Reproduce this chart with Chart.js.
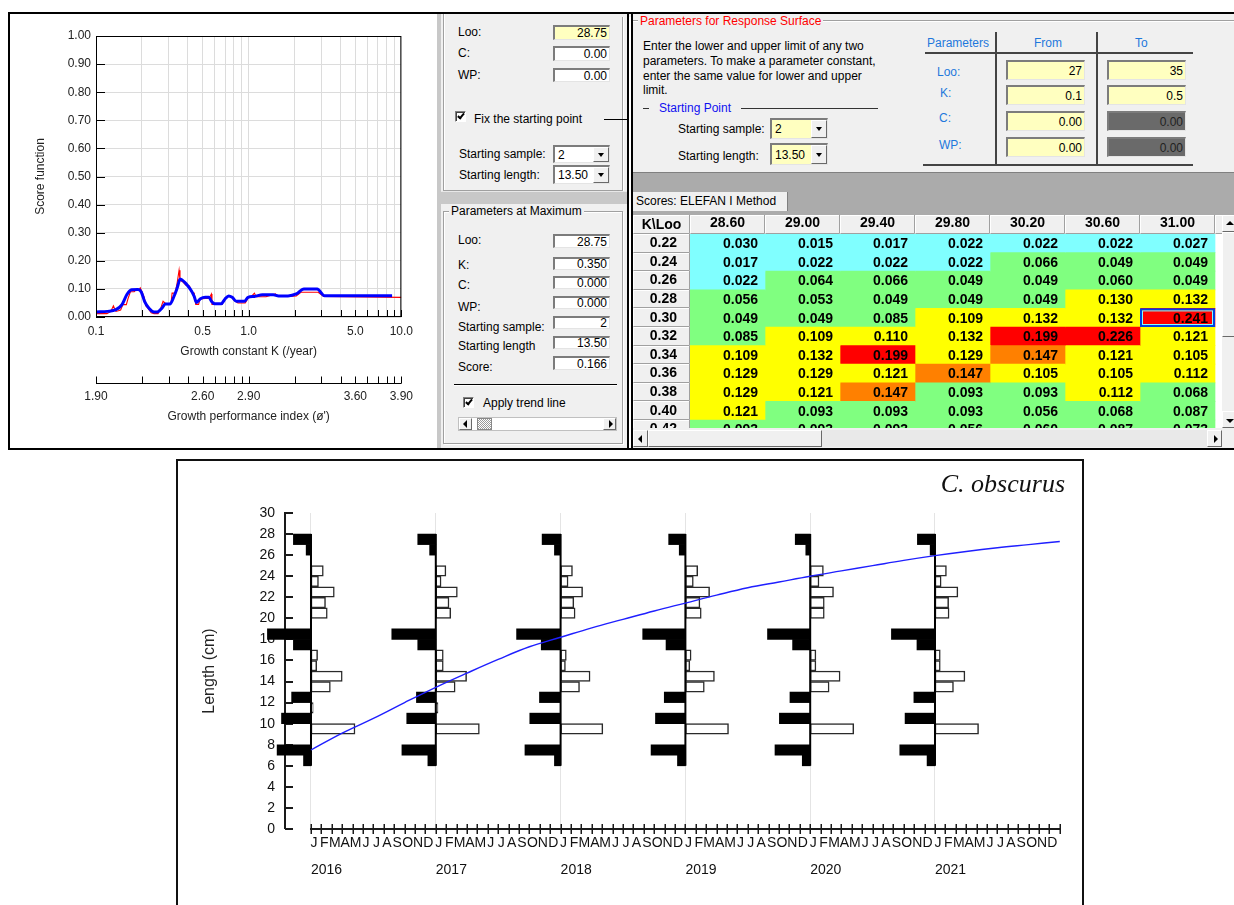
<!DOCTYPE html>
<html>
<head>
<meta charset="utf-8">
<script src="https://cdn.jsdelivr.net/npm/chart.js@4.4.1/dist/chart.umd.min.js"></script>
<style>
body{margin:0;width:1234px;height:905px;position:relative;background:#fff;overflow:hidden;font-family:"Liberation Sans",Arial,sans-serif;font-size:12px;color:#000}
.a{position:absolute}
.t{position:absolute;white-space:nowrap;line-height:14px;font-size:12px}
.in{position:absolute;box-sizing:border-box;background:#fff;border-top:2px solid #7c7c7c;border-left:2px solid #7c7c7c;border-right:1px solid #e4e4e4;border-bottom:1px solid #e4e4e4;display:flex;align-items:center;justify-content:flex-end;padding-right:2px;font-size:12px;line-height:12px}
.cmb{justify-content:flex-start;padding-left:3px}
.yl{background:#ffffc0}
.dk{background:#6a6a6a;color:#222}
.dd{position:absolute;right:0;top:0;bottom:0;width:16px;background:#f0f0f0;box-sizing:border-box;border:1px solid;border-color:#fff #696969 #696969 #fff}
.dd::after{content:"";position:absolute;left:4px;top:50%;margin-top:-2px;border-left:3.5px solid transparent;border-right:3.5px solid transparent;border-top:4px solid #000}
.cb{position:absolute;width:11px;height:11px;box-sizing:border-box;background:#fff;border-top:1px solid #808080;border-left:1px solid #808080;border-right:1px solid #fff;border-bottom:1px solid #fff;box-shadow:inset 1px 1px 0 #404040}
.cb::after{content:"";position:absolute;left:3px;top:0px;width:2px;height:5px;border-right:2px solid #000;border-bottom:2px solid #000;transform:rotate(40deg)}
.btn{position:absolute;box-sizing:border-box;background:#f0f0f0;border:1px solid;border-color:#fff #696969 #696969 #fff}
.al::after,.ar::after,.au::after,.ad::after{content:"";position:absolute;left:50%;top:50%}
.al::after{margin-left:-3px;margin-top:-4px;border-top:4px solid transparent;border-bottom:4px solid transparent;border-right:4px solid #000}
.ar::after{margin-left:-1px;margin-top:-4px;border-top:4px solid transparent;border-bottom:4px solid transparent;border-left:4px solid #000}
.au::after{margin-left:-4px;margin-top:-3px;border-left:4px solid transparent;border-right:4px solid transparent;border-bottom:4px solid #000}
.ad::after{margin-left:-4px;margin-top:-1px;border-left:4px solid transparent;border-right:4px solid transparent;border-top:4px solid #000}
.grp{position:absolute;box-sizing:border-box;border:1px solid #a0a0a0;box-shadow:1px 1px 0 #fff, inset 1px 1px 0 #fff}
.blue{color:#1e78dc}
canvas{position:absolute}
</style>
</head>
<body>
<!-- panel backgrounds -->
<div class="a" style="left:437px;top:14px;width:4px;height:434px;background:#c8c8c8"></div>
<div class="a" style="left:441px;top:14px;width:186px;height:434px;background:#f0f0f0"></div>
<div class="a" style="left:633px;top:14px;width:601px;height:434px;background:#f0f0f0"></div>

<!-- score function chart -->
<canvas id="scoreChart" width="427" height="434" style="left:10px;top:14px"></canvas>

<!-- middle panel -->
<div class="grp" style="left:443px;top:6px;width:180px;height:185px"></div>
<div class="t" style="left:472px;top:3px;background:#f0f0f0;padding:0 2px">Enter Parameters for ELEFAN I</div>
<div class="t" style="left:458px;top:25px">Loo:</div>
<div class="in yl" style="left:553px;top:25px;width:57px;height:15px">28.75</div>
<div class="t" style="left:458px;top:46px">C:</div>
<div class="in" style="left:553px;top:46px;width:57px;height:15px">0.00</div>
<div class="t" style="left:458px;top:68px">WP:</div>
<div class="in" style="left:553px;top:68px;width:57px;height:14px">0.00</div>
<div class="cb" style="left:455px;top:111px"></div>
<div class="t" style="left:474px;top:112px">Fix the starting point</div>
<div class="a" style="left:604px;top:119px;width:23px;height:1px;background:#000"></div>
<div class="t" style="left:459px;top:147px">Starting sample:</div>
<div class="in cmb" style="left:553px;top:145px;width:57px;height:18px">2<div class="dd"></div></div>
<div class="t" style="left:459px;top:168px">Starting length:</div>
<div class="in cmb" style="left:553px;top:165px;width:57px;height:19px">13.50<div class="dd"></div></div>
<div class="a" style="left:441px;top:191px;width:186px;height:12px;background:#c8c8c8;border-top:1px solid #e8e8e8"></div>
<div class="grp" style="left:443px;top:211px;width:180px;height:233px"></div>
<div class="t" style="left:449px;top:204px;background:#f0f0f0;padding:0 2px">Parameters at Maximum</div>
<div class="t" style="left:458px;top:233px">Loo:</div>
<div class="in" style="left:553px;top:234px;width:57px;height:14px">28.75</div>
<div class="t" style="left:458px;top:258px">K:</div>
<div class="in" style="left:553px;top:257px;width:57px;height:13px">0.350</div>
<div class="t" style="left:458px;top:278px">C:</div>
<div class="in" style="left:553px;top:276px;width:57px;height:13px">0.000</div>
<div class="t" style="left:458px;top:300px">WP:</div>
<div class="in" style="left:553px;top:296px;width:57px;height:13px">0.000</div>
<div class="t" style="left:458px;top:320px">Starting sample:</div>
<div class="in" style="left:553px;top:316px;width:57px;height:13px">2</div>
<div class="t" style="left:458px;top:339px">Starting length</div>
<div class="in" style="left:553px;top:336px;width:57px;height:13px">13.50</div>
<div class="t" style="left:458px;top:360px">Score:</div>
<div class="in" style="left:553px;top:356px;width:57px;height:14px">0.166</div>
<div class="a" style="left:454px;top:384px;width:163px;height:1px;background:#000;box-shadow:0 1px 0 #fff"></div>
<div class="cb" style="left:463px;top:397px"></div>
<div class="t" style="left:483px;top:396px">Apply trend line</div>
<div class="a" style="left:458px;top:417px;width:159px;height:14px;background:#fff;box-sizing:border-box;border:1px solid #c0c0c0"></div>
<div class="btn al" style="left:459px;top:418px;width:13px;height:12px"></div>
<div class="a" style="left:477px;top:418px;width:15px;height:12px;background:repeating-conic-gradient(#9a9a9a 0 25%,#fff 0 50%) 0 0/2px 2px;box-sizing:border-box;border:1px solid #888"></div>
<div class="btn ar" style="left:603px;top:418px;width:13px;height:12px"></div>

<!-- right panel -->
<div class="a" style="left:633px;top:20px;width:601px;height:1px;background:#a0a0a0;box-shadow:0 1px 0 #fff"></div>
<div class="t" style="left:638px;top:14px;background:#f0f0f0;padding:0 2px;color:#ff0000">Parameters for Response Surface</div>
<div class="t" style="left:643px;top:39px">Enter the lower and upper limit of any two</div>
<div class="t" style="left:643px;top:54px">parameters. To make a parameter constant,</div>
<div class="t" style="left:643px;top:69px">enter the same value for lower and upper</div>
<div class="t" style="left:643px;top:83px">limit.</div>
<div class="a" style="left:643px;top:108px;width:6px;height:1px;background:#333"></div>
<div class="t" style="left:659px;top:101px;color:#1010f0">Starting Point</div>
<div class="a" style="left:741px;top:108px;width:137px;height:1px;background:#333"></div>
<div class="t" style="left:678px;top:122px">Starting sample:</div>
<div class="in cmb yl" style="left:770px;top:118px;width:58px;height:21px">2<div class="dd"></div></div>
<div class="t" style="left:678px;top:149px">Starting length:</div>
<div class="in cmb yl" style="left:770px;top:143px;width:58px;height:22px">13.50<div class="dd"></div></div>

<div class="t blue" style="left:927px;top:36px">Parameters</div>
<div class="t blue" style="left:1034px;top:36px">From</div>
<div class="t blue" style="left:1135px;top:36px">To</div>
<div class="a" style="left:925px;top:52px;width:268px;height:2px;background:#444"></div>
<div class="a" style="left:995px;top:32px;width:2px;height:133px;background:#444"></div>
<div class="a" style="left:1096px;top:32px;width:2px;height:133px;background:#444"></div>
<div class="a" style="left:923px;top:164px;width:270px;height:2px;background:#444"></div>
<div class="t blue" style="left:937px;top:65px">Loo:</div>
<div class="t blue" style="left:940px;top:86px">K:</div>
<div class="t blue" style="left:939px;top:111px">C:</div>
<div class="t blue" style="left:939px;top:138px">WP:</div>
<div class="in yl" style="left:1006px;top:60px;width:79px;height:20px">27</div>
<div class="in yl" style="left:1107px;top:60px;width:79px;height:20px">35</div>
<div class="in yl" style="left:1006px;top:85px;width:79px;height:20px">0.1</div>
<div class="in yl" style="left:1107px;top:85px;width:79px;height:20px">0.5</div>
<div class="in yl" style="left:1006px;top:111px;width:79px;height:20px">0.00</div>
<div class="in dk" style="left:1107px;top:111px;width:79px;height:20px">0.00</div>
<div class="in yl" style="left:1006px;top:137px;width:79px;height:20px">0.00</div>
<div class="in dk" style="left:1107px;top:137px;width:79px;height:20px">0.00</div>

<div class="a" style="left:633px;top:172px;width:601px;height:43px;background:#ababab;border-top:1px solid #808080"></div>
<div class="a" style="left:633px;top:192px;width:154px;height:19px;background:#f0f0f0;border-right:1px solid #808080"></div>
<div class="t" style="left:636px;top:194px">Scores: ELEFAN I Method</div>

<canvas id="scoreTable" width="589" height="213" style="left:633px;top:215px"></canvas>
<div class="a" style="left:1222px;top:215px;width:12px;height:215px;background:#f0f0f0"></div>
<div class="btn au" style="left:1222px;top:215px;width:16px;height:17px"></div>
<div class="btn" style="left:1222px;top:232px;width:16px;height:105px"></div>
<div class="btn ad" style="left:1222px;top:411px;width:16px;height:17px"></div>
<div class="a" style="left:633px;top:428px;width:601px;height:20px;background:#f0f0f0"></div>
<div class="a" style="left:633px;top:430px;width:589px;height:17px;background:#e9e9e9"></div>
<div class="btn al" style="left:633px;top:430px;width:15px;height:17px"></div>
<div class="btn" style="left:648px;top:430px;width:174px;height:17px"></div>
<div class="btn ar" style="left:1207px;top:430px;width:15px;height:17px"></div>

<!-- frame overlays -->
<div class="a" style="left:0;top:0;width:1234px;height:12px;background:#fff"></div>
<div class="a" style="left:8px;top:12px;width:1226px;height:2px;background:#000"></div>
<div class="a" style="left:8px;top:448px;width:1226px;height:2px;background:#000"></div>
<div class="a" style="left:8px;top:12px;width:2px;height:438px;background:#000"></div>
<div class="a" style="left:627px;top:12px;width:2px;height:438px;background:#000"></div>
<div class="a" style="left:631px;top:12px;width:2px;height:438px;background:#000"></div>

<!-- bottom length-frequency chart -->
<canvas id="lfqChart" width="908" height="445" style="left:177px;top:460px"></canvas>
<div class="a" style="left:176px;top:459px;width:908px;height:446px;border:2px solid #111;border-bottom:none;box-sizing:border-box;pointer-events:none"></div>

<script>
Chart.defaults.font.family = "'Liberation Sans', Arial, sans-serif";

// ================= Score function (top-left) =================
const kTrend = [0.1, 0.119, 0.135, 0.148, 0.159, 0.171, 0.189, 0.198, 0.208, 0.223, 0.24, 0.252, 0.271, 0.284, 0.305, 0.324, 0.34, 0.356, 0.38, 0.398, 0.424, 0.44, 0.455, 0.483, 0.52, 0.55, 0.57, 0.6, 0.66, 0.70, 0.74, 0.78, 0.83, 0.94, 0.99, 1.09, 1.23, 1.45, 1.57, 1.81, 2.05, 2.30, 2.81, 3.14, 8.7];
const scoreTrend = [0.018, 0.020, 0.026, 0.044, 0.079, 0.097, 0.098, 0.089, 0.056, 0.030, 0.018, 0.018, 0.032, 0.046, 0.046, 0.073, 0.103, 0.135, 0.124, 0.112, 0.091, 0.073, 0.052, 0.065, 0.070, 0.070, 0.056, 0.047, 0.047, 0.064, 0.075, 0.070, 0.056, 0.056, 0.070, 0.073, 0.079, 0.079, 0.075, 0.075, 0.082, 0.100, 0.100, 0.076, 0.076];
const kRaw = [0.1, 0.118, 0.125, 0.13, 0.135, 0.14, 0.145, 0.15, 0.158, 0.162, 0.168, 0.178, 0.185, 0.19, 0.195, 0.2, 0.207, 0.212, 0.22, 0.23, 0.24, 0.255, 0.265, 0.275, 0.285, 0.31, 0.315, 0.33, 0.34, 0.35, 0.355, 0.37, 0.39, 0.41, 0.42, 0.44, 0.45, 0.47, 0.48, 0.52, 0.55, 0.57, 0.575, 0.6, 0.67, 0.7, 0.74, 0.78, 0.8, 0.85, 0.95, 1.0, 1.05, 1.09, 1.12, 1.3, 1.5, 1.55, 1.85, 2.05, 2.2, 2.5, 2.85, 3.1, 10];
const scoreRaw = [0.012, 0.012, 0.02, 0.04, 0.02, 0.022, 0.025, 0.044, 0.044, 0.065, 0.09, 0.09, 0.1, 0.095, 0.104, 0.09, 0.07, 0.04, 0.03, 0.015, 0.012, 0.012, 0.03, 0.056, 0.048, 0.048, 0.085, 0.085, 0.121, 0.166, 0.13, 0.125, 0.112, 0.11, 0.09, 0.085, 0.045, 0.045, 0.064, 0.066, 0.066, 0.082, 0.045, 0.045, 0.045, 0.066, 0.075, 0.07, 0.06, 0.05, 0.05, 0.07, 0.075, 0.085, 0.072, 0.072, 0.082, 0.073, 0.073, 0.075, 0.088, 0.088, 0.088, 0.073, 0.07];
const kTickValues = [0.1, 0.5, 1, 5, 10];
const kTickLabels = ['0.1', '0.5', '1.0', '5.0', '10.0'];
const phiTickLabels = ['1.90', '2.60', '2.90', '3.60', '3.90'];

const logTicks = [];
[0.1, 1].forEach(d => { for (let m = 1; m <= 9; m++) logTicks.push(+(m * d).toFixed(4)); });
logTicks.push(10);
function labelAt(v, labels) {
  const i = kTickValues.findIndex(t => Math.abs(v - t) / t < 1e-6);
  return i >= 0 ? labels[i] : '';
}
const fontS = {size: 12};
const noGrid = {display: false, drawTicks: false};
const scorePlugin = {
  id: 'scoreFrame',
  afterDraw(chart) {
    const {ctx, chartArea: a, scales: {x, y, x2}} = chart;
    ctx.save();
    ctx.strokeStyle = '#000';
    ctx.lineWidth = 1;
    ctx.strokeRect(a.left + 0.5, a.top + 0.5, a.right - a.left - 1, a.bottom - a.top - 1);
    ctx.beginPath();
    y.ticks.forEach(t => { const p = Math.round(y.getPixelForValue(t.value)) + 0.5; ctx.moveTo(a.left, p); ctx.lineTo(a.left + 9, p); });
    x.ticks.forEach(t => { const p = Math.round(x.getPixelForValue(t.value)) + 0.5; ctx.moveTo(p, a.bottom); ctx.lineTo(p, a.bottom - 7); });
    const ly = Math.round(x2.top + 17.7) + 0.5;
    ctx.moveTo(x2.left, ly); ctx.lineTo(x2.right, ly);
    x2.ticks.forEach(t => { const p = Math.round(x2.getPixelForValue(t.value)) + 0.5; ctx.moveTo(p, ly); ctx.lineTo(p, ly - 7); });
    ctx.stroke();
    ctx.restore();
  }
};
new Chart(document.getElementById('scoreChart'), {
  type: 'line',
  data: {
    datasets: [
      {label: 'Trend', data: kTrend.map((k, i) => ({x: k, y: scoreTrend[i]})), borderColor: '#0000ff', borderWidth: 3, pointRadius: 0, cubicInterpolationMode: 'monotone'},
      {label: 'Score', data: kRaw.map((k, i) => ({x: k, y: scoreRaw[i]})), borderColor: '#ff0000', borderWidth: 1.1, pointRadius: 0, tension: 0}
    ]
  },
  options: {
    responsive: false, animation: false, events: [],
    layout: {padding: {top: 22, right: 22, bottom: 21, left: 0}},
    plugins: {legend: {display: false}, tooltip: {enabled: false}},
    scales: {
      x: {type: 'logarithmic', position: 'bottom', weight: 0, min: 0.1, max: 10,
        afterBuildTicks: s => { s.ticks = logTicks.map(v => ({value: v})); },
        ticks: {autoSkip: false, maxRotation: 0, padding: 7, font: fontS, color: '#222', callback: v => labelAt(v, kTickLabels)},
        grid: {color: '#dcdcdc', drawTicks: false}, border: {display: false},
        title: {display: true, text: 'Growth constant K (/year)', font: fontS, color: '#222', padding: {top: 0, bottom: 6}},
        afterFit: s => { s.height = 48; }},
      x2: {type: 'logarithmic', axis: 'x', position: 'bottom', weight: 1, min: 0.1, max: 10,
        afterBuildTicks: s => { s.ticks = logTicks.map(v => ({value: v})); },
        ticks: {autoSkip: false, maxRotation: 0, padding: 24, font: fontS, color: '#222', callback: v => labelAt(v, phiTickLabels)},
        grid: noGrid, border: {display: false},
        title: {display: true, text: "Growth performance index (ø')", font: fontS, color: '#222', padding: {top: 0, bottom: 3}},
        afterFit: s => { s.height = 62; }},
      y: {type: 'linear', min: 0, max: 1,
        afterBuildTicks: s => { const t = []; for (let i = 0; i <= 10; i++) t.push({value: i / 10}); s.ticks = t; },
        ticks: {padding: 5, font: fontS, color: '#222', callback: v => v.toFixed(2)},
        grid: {color: '#dcdcdc', drawTicks: false}, border: {display: false},
        title: {display: true, text: 'Score function', font: fontS, color: '#222', padding: {top: 23}},
        afterFit: s => { s.width = 86; }}
    }
  },
  plugins: [scorePlugin]
});

// ================= ELEFAN I score table =================
const looColumns = ['28.60', '29.00', '29.40', '29.80', '30.20', '30.60', '31.00'];
const kRows = ['0.22', '0.24', '0.26', '0.28', '0.30', '0.32', '0.34', '0.36', '0.38', '0.40', '0.42'];
const scoresK022 = [0.030, 0.015, 0.017, 0.022, 0.022, 0.022, 0.027];
const scoresK024 = [0.017, 0.022, 0.022, 0.022, 0.066, 0.049, 0.049];
const scoresK026 = [0.022, 0.064, 0.066, 0.049, 0.049, 0.060, 0.049];
const scoresK028 = [0.056, 0.053, 0.049, 0.049, 0.049, 0.130, 0.132];
const scoresK030 = [0.049, 0.049, 0.085, 0.109, 0.132, 0.132, 0.241];
const scoresK032 = [0.085, 0.109, 0.110, 0.132, 0.199, 0.226, 0.121];
const scoresK034 = [0.109, 0.132, 0.199, 0.129, 0.147, 0.121, 0.105];
const scoresK036 = [0.129, 0.129, 0.121, 0.147, 0.105, 0.105, 0.112];
const scoresK038 = [0.129, 0.121, 0.147, 0.093, 0.093, 0.112, 0.068];
const scoresK040 = [0.121, 0.093, 0.093, 0.093, 0.056, 0.068, 0.087];
const scoresK042 = [0.093, 0.093, 0.093, 0.056, 0.060, 0.087, 0.073];
const scoreRows = [scoresK022, scoresK024, scoresK026, scoresK028, scoresK030, scoresK032, scoresK034, scoresK036, scoresK038, scoresK040, scoresK042];
const selectedCell = {row: 4, col: 6};

function cellColor(v) {
  if (v < 0.04) return '#80ffff';
  if (v < 0.1) return '#80ff80';
  if (v < 0.14) return '#ffff00';
  if (v < 0.19) return '#ff8000';
  return '#ff0000';
}
function bevel(ctx, x, y, w, h) {
  ctx.fillStyle = '#f0f0f0';
  ctx.fillRect(x, y, w, h);
  ctx.lineWidth = 1;
  ctx.strokeStyle = '#ffffff';
  ctx.beginPath(); ctx.moveTo(x + 0.5, y + h - 1); ctx.lineTo(x + 0.5, y + 0.5); ctx.lineTo(x + w - 1, y + 0.5); ctx.stroke();
  ctx.strokeStyle = '#a0a0a0';
  ctx.beginPath(); ctx.moveTo(x + 0.5, y + h - 0.5); ctx.lineTo(x + w - 0.5, y + h - 0.5); ctx.lineTo(x + w - 0.5, y); ctx.stroke();
}
const tablePlugin = {
  id: 'tableDeco',
  beforeDraw(chart) {
    const {ctx, chartArea: a, scales: {x, y}} = chart;
    ctx.save();
    ctx.fillStyle = '#f0f0f0';
    ctx.fillRect(0, 0, chart.width, a.top);
    ctx.fillRect(0, a.top, a.left, chart.height - a.top);
    ctx.fillStyle = '#ffffff';
    ctx.fillRect(a.left, a.top, a.right - a.left, a.bottom - a.top);
    bevel(ctx, 0, 0, a.left, a.top);
    for (let c = 0; c <= looColumns.length; c++) {
      const l = Math.round(x.getPixelForValue(c)), r = Math.round(x.getPixelForValue(c + 1));
      bevel(ctx, l, 0, r - l, a.top);
    }
    ctx.beginPath(); ctx.rect(0, a.top, a.left, a.bottom - a.top); ctx.clip();
    kRows.forEach((k, r) => {
      const t = Math.round(y.getPixelForValue(r - 0.5)), b = Math.round(y.getPixelForValue(r + 0.5));
      bevel(ctx, 0, t, a.left, b - t);
    });
    ctx.restore();
    ctx.save();
    ctx.font = "bold 14px 'Liberation Sans', Arial";
    ctx.fillStyle = '#000'; ctx.textAlign = 'center'; ctx.textBaseline = 'middle';
    ctx.fillText('K\\Loo', a.left / 2, a.top / 2 + 1);
    ctx.restore();
  },
  afterDatasetsDraw(chart) {
    const {ctx, chartArea: a} = chart;
    ctx.save();
    ctx.beginPath(); ctx.rect(a.left, a.top, a.right - a.left, a.bottom - a.top); ctx.clip();
    ctx.font = "bold 14px 'Liberation Sans', Arial";
    ctx.fillStyle = '#000'; ctx.textAlign = 'right'; ctx.textBaseline = 'middle';
    chart.data.datasets.forEach((ds, di) => {
      chart.getDatasetMeta(di).data.forEach((el, ri) => {
        const right = Math.max(el.x, el.base);
        ctx.fillText(ds.data[ri].v.toFixed(3), right - 7, el.y + 1);
      });
    });
    const el = chart.getDatasetMeta(selectedCell.col).data[selectedCell.row];
    const l = Math.min(el.x, el.base), r = Math.max(el.x, el.base);
    ctx.strokeStyle = '#0040e0'; ctx.lineWidth = 2;
    ctx.strokeRect(l + 1, el.y - el.height / 2 + 1, r - l - 2, el.height - 2);
    ctx.strokeStyle = '#80ffff'; ctx.lineWidth = 1;
    ctx.strokeRect(l + 2.5, el.y - el.height / 2 + 2.5, r - l - 5, el.height - 5);
    ctx.restore();
  }
};
new Chart(document.getElementById('scoreTable'), {
  type: 'bar',
  data: {
    datasets: looColumns.map((loo, c) => ({
      label: loo,
      indexAxis: 'y',
      grouped: false,
      barPercentage: 1, categoryPercentage: 1,
      borderWidth: 0,
      data: scoreRows.map((row, r) => ({y: r, x: [c, c + 1], v: row[c]})),
      backgroundColor: scoreRows.map(row => cellColor(row[c]))
    }))
  },
  options: {
    responsive: false, animation: false, events: [],
    indexAxis: 'y',
    layout: {padding: 0},
    plugins: {legend: {display: false}, tooltip: {enabled: false}},
    scales: {
      x: {type: 'linear', position: 'top', min: 0, max: 7.0933, offset: false,
        afterBuildTicks: s => { s.ticks = looColumns.map((_, i) => ({value: i + 0.5})); },
        ticks: {autoSkip: false, maxRotation: 0, padding: 2, font: {size: 14, weight: 'bold'}, color: '#000', callback: (v, i) => looColumns[i]},
        grid: noGrid, border: {display: false},
        afterFit: s => { s.height = 19; s.paddingLeft = 0; s.paddingRight = 0; }},
      y: {type: 'linear', reverse: true, min: -0.5, max: 9.93, offset: false,
        afterBuildTicks: s => { s.ticks = kRows.map((_, i) => ({value: i})); },
        ticks: {autoSkip: false, crossAlign: 'center', padding: 13, font: {size: 14, weight: 'bold'}, color: '#000', callback: (v, i) => kRows[i]},
        grid: {display: false, drawTicks: false, offset: false}, border: {display: false},
        afterFit: s => { s.width = 57; s.paddingTop = 0; s.paddingBottom = 0; }}
    }
  },
  plugins: [tablePlugin]
});

// ================= Length-frequency plot (bottom) =================
const lengthClasses = [6.5, 7.5, 8.5, 9.5, 10.5, 11.5, 12.5, 13.5, 14.5, 15.5, 16.5, 17.5, 18.5, 19.5, 20.5, 21.5, 22.5, 23.5, 24.5, 25.5, 26.5, 27.5];
const sampleYears = [2016, 2017, 2018, 2019, 2020, 2021];
const scores2016 = [-0.17, -0.77, 0, 1.00, -0.67, 0.05, -0.44, 0.44, 0.71, 0.13, 0.15, -0.40, -0.99, 0, 0.37, 0.33, 0.53, 0.17, 0.28, 0, -0.11, -0.40];
const scores2017 = [-0.18, -0.77, 0, 0.99, -0.66, 0.05, -0.44, 0.44, 0.70, 0.17, 0.17, -0.41, -1.00, 0, 0.34, 0.30, 0.49, 0.12, 0.23, 0, -0.14, -0.41];
const scores2018 = [-0.14, -0.81, 0, 0.96, -0.70, 0, -0.48, 0.43, 0.67, 0.11, 0.13, -0.44, -1.00, 0, 0.33, 0.30, 0.50, 0.17, 0.27, 0, -0.14, -0.42];
const scores2019 = [-0.18, -0.78, 0, 0.98, -0.68, 0, -0.48, 0.43, 0.66, 0.10, 0.13, -0.44, -0.97, 0, 0.36, 0.33, 0.55, 0.18, 0.28, 0, -0.14, -0.38];
const scores2020 = [-0.18, -0.80, 0, 0.99, -0.70, 0, -0.46, 0.43, 0.68, 0.13, 0.13, -0.40, -0.97, 0, 0.32, 0.32, 0.53, 0.20, 0.30, 0, -0.10, -0.34];
const scores2021 = [-0.18, -0.80, 0, 0.99, -0.68, 0, -0.48, 0.42, 0.68, 0.12, 0.12, -0.41, -0.99, 0, 0.32, 0.31, 0.52, 0.14, 0.26, 0, -0.11, -0.40];
const growthTime = [2016, 2016.25, 2016.5, 2016.75, 2017, 2017.25, 2017.5, 2017.75, 2018, 2018.25, 2018.5, 2018.75, 2019, 2019.25, 2019.5, 2019.75, 2020, 2020.25, 2020.5, 2020.75, 2021, 2021.25, 2021.5, 2021.75, 2022];
const growthLength = [7.5, 9.1, 10.5, 12.0, 13.45, 14.8, 16.1, 17.3, 18.2, 19.1, 19.9, 20.7, 21.45, 22.2, 22.9, 23.45, 24.0, 24.5, 25.0, 25.5, 25.95, 26.35, 26.7, 27.0, 27.3];
const monthLabels = ['J', 'F', 'M', 'A', 'M', 'J', 'J', 'A', 'S', 'O', 'N', 'D'];
const histBase = {from: 6, to: 28};

const barYearsPerScore = 0.3526;   // horizontal size of a bar of score 1
const yearScores = [scores2016, scores2017, scores2018, scores2019, scores2020, scores2021];
const blackBars = [], whiteBars = [];
sampleYears.forEach((yr, j) => {
  yearScores[j].forEach((s, i) => {
    if (s === 0) return;
    const pt = {y: lengthClasses[i], x: [yr, yr + s * barYearsPerScore]};
    (s < 0 ? blackBars : whiteBars).push(pt);
  });
});
const baselines = [];
sampleYears.forEach(yr => { baselines.push({x: yr, y: histBase.from}, {x: yr, y: histBase.to}, {x: yr, y: null}); });

const monthTicks = [];
for (let i = 0; i <= 72; i++) monthTicks.push({value: 2016 + i / 12});

const lfqAxes = {
  id: 'lfqAxes',
  beforeDatasetsDraw(chart) {
    const {ctx, chartArea: a, scales: {x, y}} = chart;
    ctx.save();
    ctx.strokeStyle = '#1a1a1a';
    ctx.lineWidth = 2;
    ctx.beginPath();
    const y0 = Math.round(y.getPixelForValue(0));
    ctx.moveTo(a.left, y0); ctx.lineTo(a.left, y.getPixelForValue(30) - 1);
    y.ticks.forEach(t => { const p = Math.round(y.getPixelForValue(t.value)); ctx.moveTo(a.left, p); ctx.lineTo(a.left + 8, p); });
    ctx.moveTo(x.getPixelForValue(2016) - 1, y0); ctx.lineTo(x.getPixelForValue(2022) + 1, y0);
    ctx.stroke();
    ctx.lineWidth = 1.5;
    ctx.beginPath();
    x.ticks.forEach(t => { const p = Math.round(x.getPixelForValue(t.value)) + 0.25; ctx.moveTo(p, y0 - 5); ctx.lineTo(p, y0 + 5); });
    ctx.stroke();
    ctx.restore();
  }
};

new Chart(document.getElementById('lfqChart'), {
  type: 'line',
  data: {
    datasets: [
      {type: 'line', label: 'Growth curve', data: growthTime.map((t, i) => ({x: t, y: growthLength[i]})), borderColor: '#1f1fff', borderWidth: 1.4, pointRadius: 0, tension: 0.4, order: 0},
      {type: 'line', label: 'Sample baseline', data: baselines, borderColor: '#000', borderWidth: 2, pointRadius: 0, spanGaps: false, order: 1},
      {type: 'bar', label: 'Positive', indexAxis: 'y', grouped: false, data: whiteBars, backgroundColor: '#ffffff', borderColor: '#2a2a2a', borderWidth: 1.5, borderSkipped: false, barPercentage: 1, categoryPercentage: 1, clip: false, order: 2},
      {type: 'bar', label: 'Negative', indexAxis: 'y', grouped: false, data: blackBars, backgroundColor: '#000000', borderWidth: 0, barPercentage: 1, categoryPercentage: 1, clip: false, order: 3}
    ]
  },
  options: {
    responsive: false, animation: false, events: [],
    layout: {padding: {top: 0, right: 20, bottom: 20, left: 0}},
    plugins: {
      legend: {display: false}, tooltip: {enabled: false},
      title: {display: true, text: 'C. obscurus', align: 'end', color: '#111', font: {family: "'Liberation Serif', 'Times New Roman', serif", size: 26, style: 'italic', weight: 'normal'}, padding: {top: 10, bottom: 11.8}}
    },
    scales: {
      x: {type: 'linear', position: 'bottom', weight: 0, min: 2015.7917, max: 2022.0417, offset: false,
        afterBuildTicks: s => { s.ticks = monthTicks.map(t => ({value: t.value})); },
        ticks: {autoSkip: false, maxRotation: 0, minRotation: 0, padding: 5.6, labelOffset: 3, font: {size: 14}, color: '#111',
          callback: (v, i) => i < 72 ? monthLabels[i % 12] : ''},
        grid: {drawTicks: false, offset: false, lineWidth: 1, color: c => (c.index % 12 === 0 && c.index < 72) ? '#e4e4e4' : 'rgba(0,0,0,0)'},
        border: {display: false},
        afterFit: s => { s.height = 26; }},
      x2: {type: 'linear', axis: 'x', position: 'bottom', weight: 1, min: 2015.7917, max: 2022.0417, offset: false,
        afterBuildTicks: s => { s.ticks = sampleYears.map(v => ({value: v})); },
        ticks: {autoSkip: false, maxRotation: 0, align: 'start', padding: 7, font: {size: 14}, color: '#111', callback: v => String(v)},
        grid: noGrid, border: {display: false},
        afterFit: s => { s.height = 30; }},
      y: {type: 'linear', min: 0, max: 30, offset: false,
        ticks: {stepSize: 2, autoSkip: false, padding: 10, font: {size: 14}, color: '#111'},
        grid: {display: false, drawTicks: false, offset: false}, border: {display: false},
        title: {display: true, text: 'Length (cm)', font: {size: 16}, color: '#222', padding: {top: 23}},
        afterFit: s => { s.width = 108; }}
    }
  },
  plugins: [lfqAxes]
});
</script>
</body>
</html>
